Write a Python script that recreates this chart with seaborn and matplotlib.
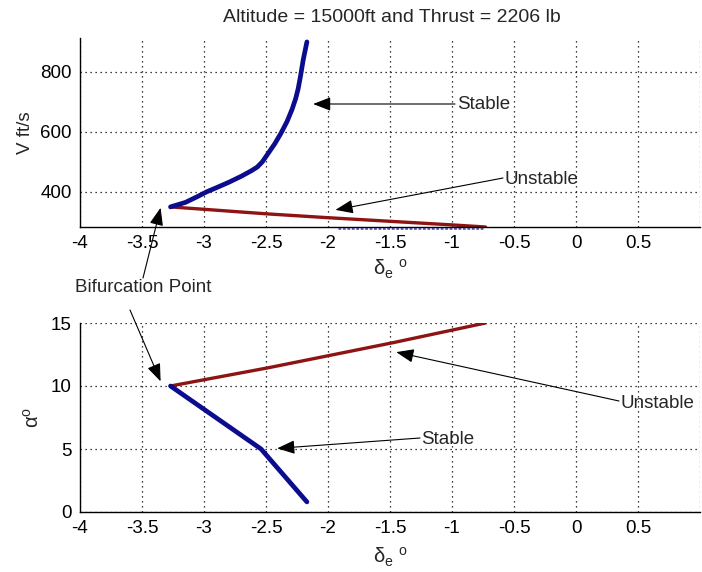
import matplotlib
matplotlib.use("Agg")
import matplotlib.pyplot as plt
import pandas as pd
import seaborn as sns

# values
# top panel: V (ft/s) vs elevator deflection
v_stable_de = [-3.27, -3.15, -3.05, -2.98, -2.90, -2.80, -2.70, -2.62, -2.57, -2.53, -2.48, -2.43,
               -2.38, -2.33, -2.29, -2.26, -2.24, -2.22, -2.20, -2.17]
v_stable_v = [350, 365, 385, 400, 414, 432, 452, 470, 483, 500, 530, 560,
              595, 635, 675, 712, 745, 790, 840, 900]
v_unstable_de = [-3.27, -3.0, -2.5, -2.0, -1.5, -1.0, -0.73]
v_unstable_v = [350, 342, 327, 314, 302, 290, 283]
v_faint_de = [-1.92, -0.75]
v_faint_v = [281, 281]

# bottom panel: alpha (deg) vs elevator deflection
a_stable_de = [-3.27, -2.54, -2.17]
a_stable_a = [10.0, 5.0, 0.8]
a_unstable_de = [-3.27, -2.48, -1.47, -0.73]
a_unstable_a = [10.0, 11.45, 13.45, 15.0]

x_ticks = [-4, -3.5, -3, -2.5, -2, -1.5, -1, -0.5, 0, 0.5, 1]
x_labels = ["-4", "-3.5", "-3", "-2.5", "-2", "-1.5", "-1", "-0.5", "0", "0.5", ""]
v_ticks = [400, 600, 800]
a_ticks = [0, 5, 10, 15]

title = "Altitude = 15000ft and Thrust = 2206 lb"

blue = "#0c0c8e"
red = "#8e1414"

sns.set_style("white")
plt.rcParams["font.family"] = ["Liberation Sans", "DejaVu Sans"]
plt.rcParams["mathtext.fontset"] = "custom"
plt.rcParams["mathtext.rm"] = "Liberation Sans"
plt.rcParams["mathtext.it"] = "Liberation Sans"
plt.rcParams["mathtext.default"] = "regular"

W, H = 702, 572
fs = 13.5
fig = plt.figure(figsize=(W / 100, H / 100), dpi=100)
ax1 = fig.add_axes([80 / W, 1 - 227 / H, 620 / W, 189 / H])
ax2 = fig.add_axes([80 / W, 1 - 512 / H, 620 / W, 189 / H])

top_st = pd.DataFrame({"de": v_stable_de, "v": v_stable_v})
top_un = pd.DataFrame({"de": v_unstable_de, "v": v_unstable_v})
sns.lineplot(data=top_un, x="de", y="v", ax=ax1, color=red, lw=2.4, sort=False, estimator=None)
sns.lineplot(data=top_st, x="de", y="v", ax=ax1, color=blue, lw=3.4, sort=False, estimator=None)
ax1.plot(v_faint_de, v_faint_v, color="#6060c8", lw=2, ls=(0, (1, 0.6)), clip_on=False, zorder=1)

bot_st = pd.DataFrame({"de": a_stable_de, "a": a_stable_a})
bot_un = pd.DataFrame({"de": a_unstable_de, "a": a_unstable_a})
sns.lineplot(data=bot_un, x="de", y="a", ax=ax2, color=red, lw=2.4, sort=False, estimator=None)
sns.lineplot(data=bot_st, x="de", y="a", ax=ax2, color=blue, lw=3.4, sort=False, estimator=None)

for ax, yt in [(ax1, v_ticks), (ax2, a_ticks)]:
    ax.set_xlim(-4, 1)
    ax.set_xticks(x_ticks)
    ax.set_xticklabels(x_labels)
    ax.set_yticks(yt)
    ax.grid(True, color="black", ls=(0, (1, 3)), lw=0.9)
    ax.tick_params(direction="in", length=4, width=0.8, labelsize=fs, colors="black", pad=6)
    for s in ["top", "right"]:
        ax.spines[s].set_visible(False)
    for s in ["left", "bottom"]:
        ax.spines[s].set_color("black")
        ax.spines[s].set_linewidth(1.0)
    ax.set_xlabel(r"$\delta_e\ ^o$", fontsize=14.5)

ax1.set_ylim(283, 913)
ax2.set_ylim(0, 15)
ax1.set_ylabel("V ft/s", fontsize=fs)
ax2.set_ylabel(r"$\alpha^o$", fontsize=14.5)
ax1.yaxis.set_label_coords(-0.074, 0.5)
ax2.yaxis.set_label_coords(-0.06, 0.5)
ax1.xaxis.set_label_coords(0.5, -0.16)
ax2.xaxis.set_label_coords(0.5, -0.18)

fig.text(392 / W, 1 - 18 / H, title, ha="center", va="center", fontsize=14)

arrow = dict(arrowstyle="-|>,head_length=0.9,head_width=0.35", color="black", lw=0.8,
             mutation_scale=12, shrinkA=0, shrinkB=0)


def note(ax, tip, tail):
    ax.annotate("", xy=tip, xycoords="data", xytext=(tail[0], H - tail[1]),
                textcoords="figure pixels", arrowprops=arrow, annotation_clip=False)


note(ax1, (-2.12, 693), (455, 104))
note(ax1, (-1.94, 340), (503, 178))
note(ax1, (-3.35, 347), (143, 278))
note(ax2, (-3.35, 10.37), (130, 310))
note(ax2, (-1.45, 12.69), (619, 401))
note(ax2, (-2.41, 5.05), (420, 438))

fig.text(457 / W, 1 - 104 / H, "Stable", ha="left", va="center", fontsize=fs)
fig.text(504 / W, 1 - 180 / H, "Unstable", ha="left", va="center", fontsize=fs)
fig.text(75 / W, 1 - 287 / H, "Bifurcation Point", ha="left", va="center", fontsize=fs)
fig.text(620 / W, 1 - 404 / H, "Unstable", ha="left", va="center", fontsize=fs)
fig.text(421 / W, 1 - 439 / H, "Stable", ha="left", va="center", fontsize=fs)

fig.savefig("out.png", dpi=100, facecolor="white")
